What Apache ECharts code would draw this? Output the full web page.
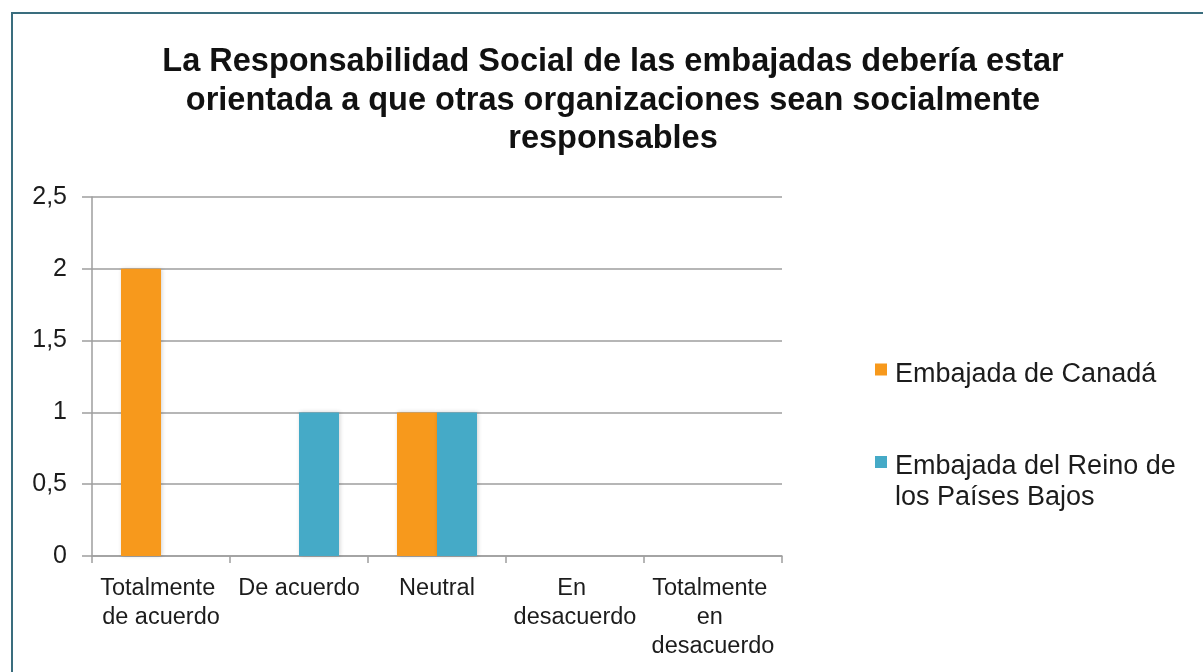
<!DOCTYPE html>
<html>
<head>
<meta charset="utf-8">
<title>Responsabilidad Social de las embajadas</title>
<script src="https://cdn.jsdelivr.net/npm/echarts@6/dist/echarts.min.js"></script>
<style>
  html, body { margin: 0; padding: 0; background: #ffffff; }
  #chart { width: 1203px; height: 672px; }
</style>
</head>
<body>
<div id="chart"></div>
<script>
// Survey answers per embassy
const categories = ['Totalmente de acuerdo', 'De acuerdo', 'Neutral', 'En desacuerdo', 'Totalmente en desacuerdo'];
const seriesNames = ['Embajada de Canadá', 'Embajada del Reino de los Países Bajos'];
const legendLines = [['Embajada de Canadá'], ['Embajada del Reino de', 'los Países Bajos']];
const canadaValues = [2, 0, 1, 0, 0];
const paisesBajosValues = [0, 1, 1, 0, 0];
const titleText = 'La Responsabilidad Social de las embajadas debería estar\norientada a que otras organizaciones sean socialmente\nresponsables';

const FONT = '"Liberation Sans", Arial, Helvetica, sans-serif';
const ORANGE = '#F7991C';
const TEAL = '#45AAC7';
const GRID_GRAY = '#9E9E9E';
const TEXT = '#1c1c1c';

const chart = echarts.init(document.getElementById('chart'), null, { renderer: 'canvas' });

const barStyle = (color) => ({
  color: color,
  shadowColor: 'rgba(0,0,0,0.18)',
  shadowBlur: 4,
  shadowOffsetX: 1
});

// Legend text: a spacer line on top pushes the first text line to sit
// level with the colour square.
const legendRich = (spacer) => ({
  s: { lineHeight: spacer, fontSize: 1 },
  t: { fontFamily: FONT, fontSize: 27, color: TEXT, lineHeight: 31, padding: [0, 0, 0, 3] }
});
const legendFormatter = (name) => {
  const lines = legendLines[seriesNames.indexOf(name)];
  return '{s| }\n' + lines.map((l) => '{t|' + l + '}').join('\n');
};

chart.setOption({
  animation: false,
  backgroundColor: '#ffffff',
  title: {
    text: titleText,
    left: 613,
    top: 43,
    padding: 0,
    textAlign: 'center',
    textStyle: {
      fontFamily: FONT,
      fontSize: 32.5,
      fontWeight: 'bold',
      color: '#111111',
      lineHeight: 38.5
    }
  },
  legend: [
    {
      data: [seriesNames[0]],
      left: 875,
      top: 353.5,
      padding: 0,
      icon: 'rect',
      itemWidth: 12,
      itemHeight: 12,
      selectedMode: false,
      formatter: legendFormatter,
      textStyle: { fontFamily: FONT, fontSize: 27, color: TEXT, rich: legendRich(10) }
    },
    {
      data: [seriesNames[1]],
      left: 875,
      top: 430.5,
      padding: 0,
      icon: 'rect',
      itemWidth: 12,
      itemHeight: 12,
      selectedMode: false,
      formatter: legendFormatter,
      textStyle: { fontFamily: FONT, fontSize: 27, color: TEXT, rich: legendRich(41) }
    }
  ],
  grid: {
    left: 92,
    right: 421,
    top: 197,
    bottom: 116,
    containLabel: false
  },
  xAxis: {
    type: 'category',
    data: categories,
    axisLine: { show: true, lineStyle: { color: GRID_GRAY, width: 1.5 } },
    axisTick: { show: true, length: 7, lineStyle: { color: GRID_GRAY, width: 1.5 } },
    axisLabel: {
      interval: 0,
      margin: 18,
      fontFamily: FONT,
      fontSize: 23.5,
      color: TEXT,
      lineHeight: 29,
      width: 132,
      overflow: 'break',
      align: 'center'
    },
    splitLine: { show: false }
  },
  yAxis: {
    type: 'value',
    min: 0,
    max: 2.5,
    interval: 0.5,
    axisLine: { show: true, lineStyle: { color: GRID_GRAY, width: 1.5 } },
    axisTick: { show: true, length: 10, lineStyle: { color: GRID_GRAY, width: 1.5 } },
    axisLabel: {
      margin: 25,
      fontFamily: FONT,
      fontSize: 25,
      color: TEXT,
      formatter: (v) => String(v).replace('.', ',')
    },
    splitLine: { show: true, lineStyle: { color: GRID_GRAY, width: 1.5 } }
  },
  series: [
    {
      name: seriesNames[0],
      type: 'bar',
      data: canadaValues,
      barWidth: 40,
      barGap: '0%',
      itemStyle: barStyle(ORANGE)
    },
    {
      name: seriesNames[1],
      type: 'bar',
      data: paisesBajosValues,
      barWidth: 40,
      barGap: '0%',
      itemStyle: barStyle(TEAL)
    }
  ],
  graphic: [
    {
      type: 'rect',
      silent: true,
      shape: { x: 12, y: 13, width: 1400, height: 900 },
      style: { fill: 'none', stroke: '#3A6D7E', lineWidth: 2 }
    }
  ]
});
</script>
</body>
</html>
